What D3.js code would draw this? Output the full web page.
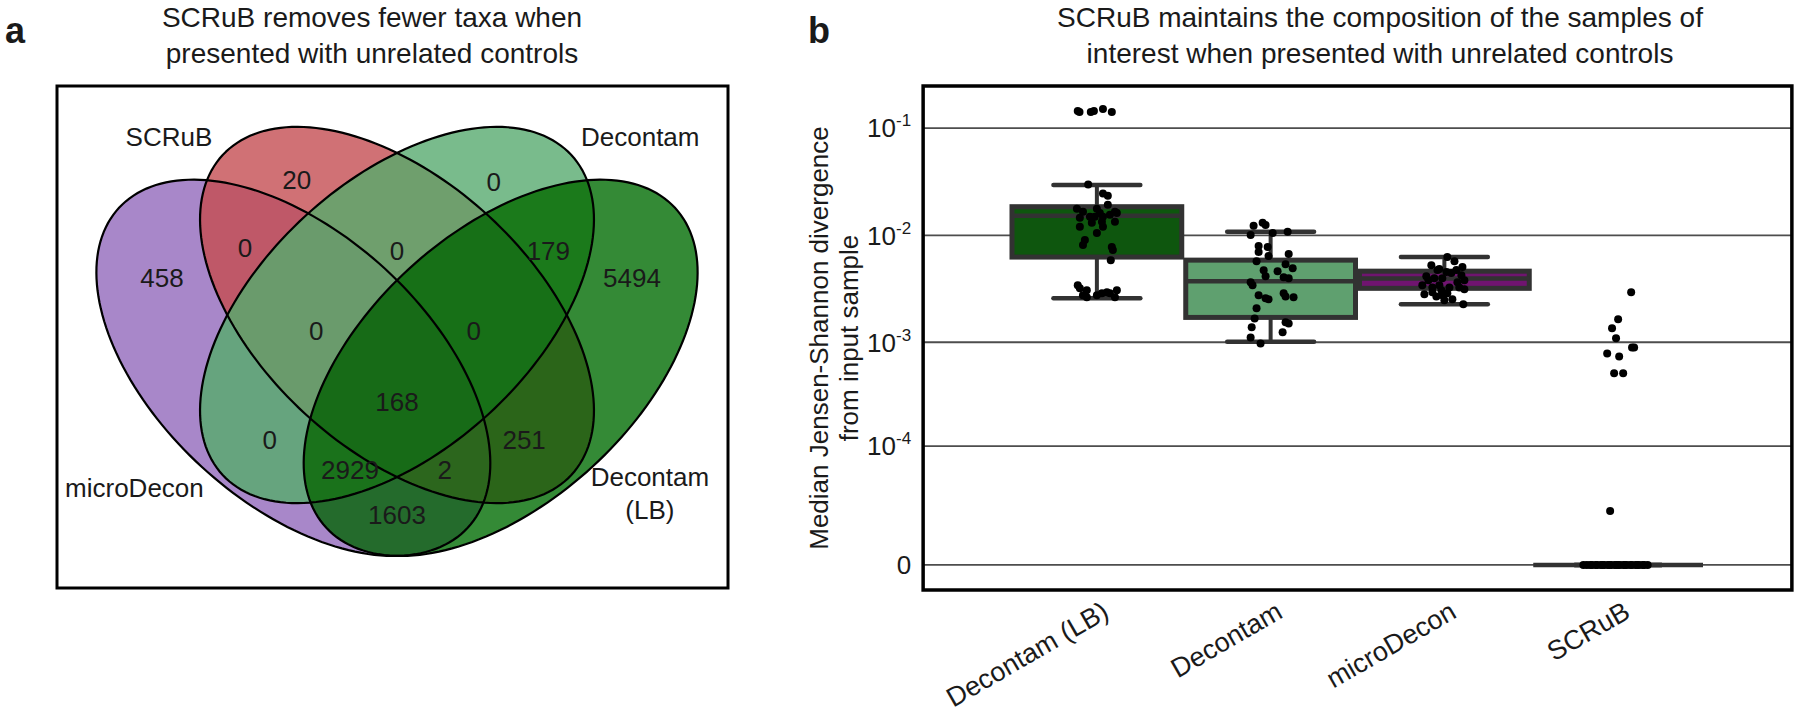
<!DOCTYPE html>
<html>
<head>
<meta charset="utf-8">
<script src="https://cdn.jsdelivr.net/npm/d3@7"></script>
<style>
body { margin: 0; background: #fff; }
svg text { font-family: "Liberation Sans", Arial, sans-serif; fill: #1a1a1a; }
</style>
</head>
<body>
<svg id="fig" width="1800" height="714"></svg>
<script>
// ---------- panel a : Venn counts ----------
const vennSets = ["microDecon", "SCRuB", "Decontam", "Decontam (LB)"]
const vennRegions = ["A", "B", "C", "D", "AB", "AC", "AD", "BC", "BD", "CD", "ABC", "ABD", "ACD", "BCD", "ABCD"]
const vennCounts = [458, 20, 0, 5494, 0, 0, 1603, 0, 251, 179, 0, 2, 2929, 0, 168]

// ---------- panel b : box + strip ----------
const methods = ["Decontam (LB)", "Decontam", "microDecon", "SCRuB"]
const boxQ1 = [0.00627, 0.00171, 0.00320, 0]
const boxMedian = [0.0152, 0.00373, 0.00395, 0]
const boxQ3 = [0.0185, 0.00587, 0.00463, 0]
const whiskerLow = [0.00258, 0.00101, 0.00227, 0]
const whiskerHigh = [0.0295, 0.0108, 0.00627, 0]

const yTicks = [0, 1e-4, 1e-3, 1e-2, 1e-1]
const yTickBase = ["0", "10", "10", "10", "10"]
const yTickExp = ["", "-4", "-3", "-2", "-1"]

// strip points: value, and horizontal jitter as a fraction of the box width
const lbValues = [0.1445, 0.141, 0.141, 0.1445, 0.151, 0.141, 0.0298, 0.0245, 0.0234, 0.0193,
  0.0177, 0.0166, 0.0177, 0.0162, 0.0166, 0.0146, 0.0149, 0.0149, 0.0149, 0.0156,
  0.0162, 0.0120, 0.0131, 0.0134, 0.0134, 0.0120, 0.01054, 0.00906, 0.00813, 0.00778,
  0.00729, 0.00587, 0.00342, 0.0032, 0.00307, 0.00275, 0.00264, 0.00275, 0.00288, 0.00294,
  0.00288, 0.00307, 0.00264]
const lbJitter = [-0.11, -0.10, -0.035, -0.017, 0.035, 0.086, -0.05, 0.035, 0.063, 0.063,
  -0.115, -0.08, 0, 0.017, 0.104, -0.098, -0.04, -0.012, 0.035, 0.075,
  0.115, -0.098, -0.029, 0.029, 0.104, 0.035, 0, -0.069, -0.08, 0.086,
  0.092, 0.08, -0.11, -0.098, -0.058, -0.08, -0.058, 0, 0.029, 0.058,
  0.075, 0.115, 0.104]

const dcValues = [0.0123, 0.0131, 0.0125, 0.0101, 0.0105, 0.0108, 0.00796, 0.00778, 0.00698, 0.0064,
  0.00668, 0.00574, 0.00538, 0.00473, 0.00463, 0.00494, 0.00415, 0.00406, 0.00398, 0.00365,
  0.00342, 0.00288, 0.00275, 0.00258, 0.00253, 0.00269, 0.00264, 0.00208, 0.00167, 0.00154,
  0.0015, 0.00124, 0.00138, 0.00111, 0.000975]
const dcJitter = [-0.098, -0.046, -0.029, -0.115, 0.012, 0.098, -0.069, -0.017, -0.069, -0.012,
  0.104, -0.081, 0.086, -0.04, 0.04, 0.127, -0.029, 0.075, 0.104, -0.115,
  -0.104, 0.075, -0.069, -0.029, -0.012, 0.086, 0.132, -0.081, -0.092, 0.086,
  0.104, 0.069, -0.109, -0.115, -0.058]

const mdValues = [0.00627, 0.00574, 0.00526, 0.00486, 0.00506, 0.00415, 0.00398, 0.00398, 0.00445, 0.00425,
  0.0038, 0.00342, 0.00326, 0.00307, 0.00326, 0.00326, 0.00313, 0.00282, 0.00269, 0.00248,
  0.00253, 0.00227, 0.00476, 0.00454, 0.00476, 0.0038, 0.00342, 0.00288, 0.00365, 0.00294,
  0.00275]
const mdJitter = [0.017, 0.058, -0.075, -0.029, 0.104, -0.104, -0.058, -0.012, 0.04, 0.098,
  0.115, -0.127, -0.069, -0.017, 0.029, 0.086, 0.115, -0.115, -0.046, 0,
  0.046, 0.109, -0.04, 0.012, 0.069, -0.092, -0.029, 0.017, 0.075, -0.069,
  -0.012]

const scValues = [0.00294, 0.00164, 0.00135, 0.00109, 0.000893, 0.000893, 0.000785, 0.000736, 0.000509, 0.000509,
  0.0000185, 0, 0, 0, 0, 0, 0, 0, 0, 0,
  0, 0, 0, 0, 0, 0, 0, 0, 0, 0,
  0, 0, 0, 0, 0, 0, 0, 0]
const scJitter = [0.075, 0, -0.035, -0.012, 0.08, 0.092, -0.063, 0.006, -0.023, 0.029,
  -0.046, -0.2, -0.18, -0.16, -0.15, -0.13, -0.12, -0.1, -0.09, -0.08,
  -0.06, -0.05, -0.04, -0.02, -0.01, 0, 0.01, 0.03, 0.04, 0.05,
  0.07, 0.08, 0.1, 0.11, 0.12, 0.14, 0.15, 0.17]

const stripValues = [lbValues, dcValues, mdValues, scValues]
const stripJitter = [lbJitter, dcJitter, mdJitter, scJitter]

// ---------- layout / style ----------
let svg = d3.select("#fig")
let W = 1800, H = 714

let boxFill = ["#0e560e", "#5fa06f", "#701470", "#3a3a3a"]
let edgeColor = "#323232"

let regionColor = {
  A: "#a887c9", B: "#d07175", C: "#79bb8c", D: "#348a36",
  AB: "#bf5868", AC: "#66a47e", AD: "#246b2c", BC: "#6f9f6d", BD: "#2b6519", CD: "#1b7a1b",
  ABC: "#6a9b6c", ABD: "#2c661d", ACD: "#1a721b", BCD: "#177017", ABCD: "#176b17"
}

// ellipse layout in unit (VennDiagram-like) coordinates
let vennShapes = [
  { cx: 0.35, cy: 0.49, rot: 135 },
  { cx: 0.50, cy: 0.57, rot: 135 },
  { cx: 0.50, cy: 0.57, rot: 45 },
  { cx: 0.65, cy: 0.49, rot: 45 }
]
let vennA = 0.35, vennB = 0.2

let regionPos = {
  A: [0.160, 0.626], B: [0.355, 0.775], C: [0.640, 0.772], D: [0.840, 0.626],
  AB: [0.280, 0.672], AC: [0.316, 0.381], AD: [0.5, 0.267], BC: [0.5, 0.668],
  BD: [0.684, 0.381], CD: [0.719, 0.668], ABC: [0.383, 0.547], ABD: [0.569, 0.335],
  ACD: [0.432, 0.335], BCD: [0.611, 0.547], ABCD: [0.5, 0.438]
}
let setLabelPos = [[0.120, 0.309], [0.170, 0.841], [0.852, 0.841], [0.866, 0.325]]

let vx = d3.scaleLinear().domain([0, 1]).range([51.5, 742.5])
let vy = d3.scaleLinear().domain([0, 1]).range([691.2, 31.2])

function ellipsePath(s) {
  let r = s.rot * Math.PI / 180
  let pts = d3.range(0, 360, 2).map(function(k){
    let t = k * Math.PI / 180
    let u = s.cx + vennA * Math.cos(t) * Math.cos(r) - vennB * Math.sin(t) * Math.sin(r)
    let v = s.cy + vennA * Math.cos(t) * Math.sin(r) + vennB * Math.sin(t) * Math.cos(r)
    return [vx(u), vy(v)]
  })
  return d3.line().curve(d3.curveLinearClosed)(pts)
}

// ---------- panel a ----------
let leftFrame = { x: 57, y: 86, w: 671, h: 502 }

svg.append("text").attr("x", 5).attr("y", 43)
  .style("font-size", "36px").style("font-weight", "bold").text("a")

let titleA = ["SCRuB removes fewer taxa when", "presented with unrelated controls"]
titleA.forEach(function(t, i){
  svg.append("text").attr("x", 372).attr("y", 27 + i * 36)
    .attr("text-anchor", "middle").style("font-size", "28px").text(t)
})

let defs = svg.append("defs")
vennShapes.forEach(function(s, i){
  defs.append("clipPath").attr("id", "clipSet" + i)
    .append("path").attr("d", ellipsePath(s))
})

let vennG = svg.append("g").attr("class", "venn")

// each region = inside its sets (nested clips) and outside the others (mask)
vennRegions.forEach(function(key, r){
  let inSets = key.split("").map(ch => "ABCD".indexOf(ch))
  let outSets = [0, 1, 2, 3].filter(i => !inSets.includes(i))
  let mask = defs.append("mask").attr("id", "maskR" + r)
    .attr("maskUnits", "userSpaceOnUse")
    .attr("x", 0).attr("y", 0).attr("width", W).attr("height", H)
  mask.append("rect").attr("width", W).attr("height", H).attr("fill", "white")
  outSets.forEach(function(i){
    mask.append("path").attr("d", ellipsePath(vennShapes[i])).attr("fill", "black")
  })
  let g = vennG
  inSets.forEach(function(i){
    g = g.append("g").attr("clip-path", `url(#clipSet${i})`)
  })
  g.append("rect")
    .attr("x", leftFrame.x).attr("y", leftFrame.y)
    .attr("width", leftFrame.w).attr("height", leftFrame.h)
    .attr("mask", `url(#maskR${r})`)
    .attr("fill", regionColor[key])
})

vennShapes.forEach(function(s){
  vennG.append("path").attr("d", ellipsePath(s))
    .attr("fill", "none").attr("stroke", "#000").attr("stroke-width", 2.2)
})

vennRegions.forEach(function(key, r){
  vennG.append("text")
    .attr("x", vx(regionPos[key][0])).attr("y", vy(regionPos[key][1]))
    .attr("dy", "0.36em").attr("text-anchor", "middle")
    .style("font-size", "26px").text(vennCounts[r])
})

vennSets.forEach(function(name, i){
  let lines = name === "Decontam (LB)" ? ["Decontam", "(LB)"] : [name]
  lines.forEach(function(line, j){
    vennG.append("text")
      .attr("x", vx(setLabelPos[i][0])).attr("y", vy(setLabelPos[i][1]) + j * 33)
      .attr("dy", "0.36em").attr("text-anchor", "middle")
      .style("font-size", "26px").text(line)
  })
})

svg.append("rect")
  .attr("x", leftFrame.x).attr("y", leftFrame.y)
  .attr("width", leftFrame.w).attr("height", leftFrame.h)
  .attr("fill", "none").attr("stroke", "#000").attr("stroke-width", 3)

// ---------- panel b ----------
let xScale = d3.scaleBand().domain(methods).range([1010, 1705]).paddingInner(0).paddingOuter(0)
let bw = xScale.bandwidth()
let plotLeft = xScale.range()[0] - bw / 2
let plotRight = xScale.range()[1] + bw / 2

let yScale = d3.scaleSymlog().constant(8.47e-6)
  .domain([-6.05e-6, 0.247]).range([590, 86])

svg.append("text").attr("x", 808).attr("y", 43)
  .style("font-size", "36px").style("font-weight", "bold").text("b")

let titleB = ["SCRuB maintains the composition of the samples of", "interest when presented with unrelated controls"]
titleB.forEach(function(t, i){
  svg.append("text").attr("x", 1380).attr("y", 27 + i * 36)
    .attr("text-anchor", "middle").style("font-size", "28px").text(t)
})

// grid
svg.append("g").selectAll("line").data(yTicks).enter().append("line")
  .attr("x1", plotLeft).attr("x2", plotRight)
  .attr("y1", d => yScale(d)).attr("y2", d => yScale(d))
  .attr("stroke", "#4d4d4d").attr("stroke-width", 1.8)

// y tick labels
let yLab = svg.append("g").selectAll("text").data(yTicks).enter().append("text")
  .attr("x", plotLeft - 12).attr("y", d => yScale(d))
  .attr("dy", "0.36em").attr("text-anchor", "end")
  .style("font-size", "26px")
yLab.append("tspan").text((d, i) => yTickBase[i])
yLab.filter((d, i) => yTickExp[i] !== "")
  .append("tspan").attr("dy", -11).style("font-size", "17px").text((d, i) => yTickExp[yTicks.indexOf(d)])

// y axis title
let yTitle = ["Median Jensen-Shannon divergence", "from input sample"]
yTitle.forEach(function(t, i){
  svg.append("text")
    .attr("transform", `translate(${828 + i * 30}, 338) rotate(-90)`)
    .attr("text-anchor", "middle").style("font-size", "26px").text(t)
})

// boxes
let boxes = svg.append("g").selectAll("g").data(methods).enter().append("g")

boxes.append("line")
  .attr("x1", d => xScale(d) + bw / 2).attr("x2", d => xScale(d) + bw / 2)
  .attr("y1", (d, i) => yScale(whiskerHigh[i])).attr("y2", (d, i) => yScale(boxQ3[i]))
  .attr("stroke", edgeColor).attr("stroke-width", 4)
boxes.append("line")
  .attr("x1", d => xScale(d) + bw / 2).attr("x2", d => xScale(d) + bw / 2)
  .attr("y1", (d, i) => yScale(boxQ1[i])).attr("y2", (d, i) => yScale(whiskerLow[i]))
  .attr("stroke", edgeColor).attr("stroke-width", 4)
;[whiskerHigh, whiskerLow].forEach(function(arr){
  boxes.append("line")
    .attr("x1", d => xScale(d) + bw * 0.25).attr("x2", d => xScale(d) + bw * 0.75)
    .attr("y1", (d, i) => yScale(arr[i])).attr("y2", (d, i) => yScale(arr[i]))
    .attr("stroke", edgeColor).attr("stroke-width", 4.5).attr("stroke-linecap", "round")
})
boxes.append("rect")
  .attr("x", d => xScale(d) + 2).attr("width", bw - 4)
  .attr("y", (d, i) => yScale(boxQ3[i]))
  .attr("height", (d, i) => yScale(boxQ1[i]) - yScale(boxQ3[i]))
  .attr("fill", (d, i) => boxFill[i])
  .attr("stroke", edgeColor).attr("stroke-width", 5)
boxes.append("line")
  .attr("x1", d => xScale(d) + 2).attr("x2", d => xScale(d) + bw - 2)
  .attr("y1", (d, i) => yScale(boxMedian[i])).attr("y2", (d, i) => yScale(boxMedian[i]))
  .attr("stroke", edgeColor).attr("stroke-width", 4.5)

// strip points
methods.forEach(function(m, i){
  svg.append("g").selectAll("circle").data(stripValues[i]).enter().append("circle")
    .attr("cx", (d, k) => xScale(m) + bw / 2 + stripJitter[i][k] * bw)
    .attr("cy", d => yScale(d))
    .attr("r", 4)
    .attr("fill", "#000")
})

// frame
svg.append("rect")
  .attr("x", plotLeft).attr("y", yScale.range()[1])
  .attr("width", plotRight - plotLeft).attr("height", yScale.range()[0] - yScale.range()[1])
  .attr("fill", "none").attr("stroke", "#000").attr("stroke-width", 3.5)

// x tick labels
svg.append("g").selectAll("text").data(methods).enter().append("text")
  .attr("transform", d => `translate(${xScale(d) + bw / 2 + 4}, 600) rotate(-30)`)
  .attr("dy", "0.72em").attr("text-anchor", "end")
  .style("font-size", "27px").text(d => d)
</script>
</body>
</html>
